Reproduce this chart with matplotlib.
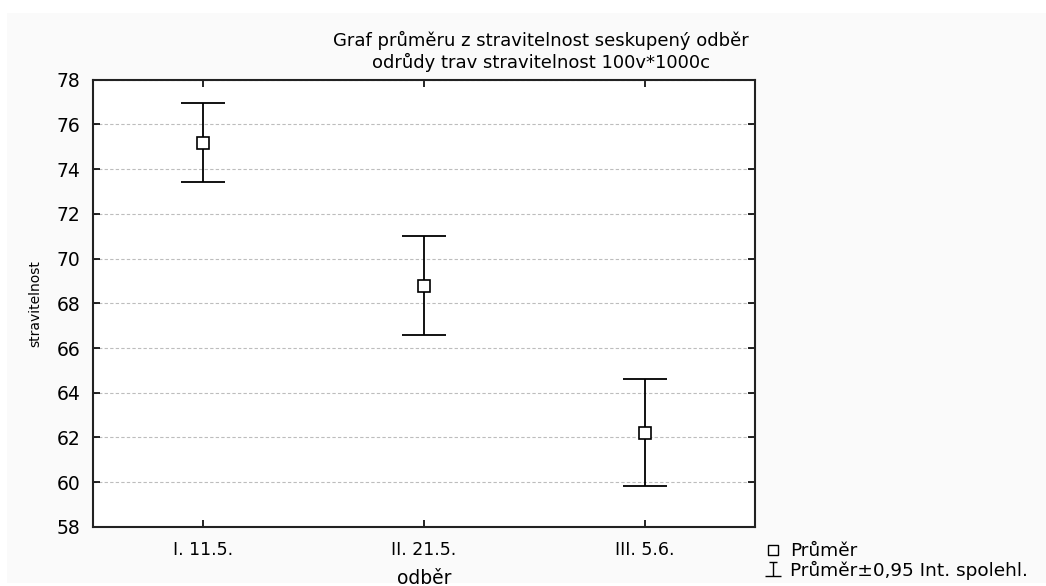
import matplotlib
matplotlib.use("Agg")
import matplotlib.pyplot as plt
from matplotlib.patches import Rectangle
from matplotlib.lines import Line2D
from matplotlib.path import Path

# data
odber = ["I. 11.5.", "II. 21.5.", "III. 5.6."]
prumer = [75.17, 68.79, 62.20]
spodni = [73.44, 66.58, 59.85]
horni = [76.95, 71.01, 64.60]
y_ticks = [58, 60, 62, 64, 66, 68, 70, 72, 74, 76, 78]

plt.rcParams["font.family"] = ["DejaVu Sans"]

fig = plt.figure(figsize=(10.46, 5.86), dpi=100)
fig.patch.set_facecolor("white")
# light grey panel like the original export
fig.add_artist(Rectangle((7 / 1046, 3 / 586), 1 - 7 / 1046, 1 - 16 / 586,
                         transform=fig.transFigure, facecolor="#fafafa",
                         edgecolor="none", zorder=-10))

ax = fig.add_axes([0.0889, 0.1007, 0.6329, 0.7636])
ax.set_facecolor("white")

x = list(range(1, len(odber) + 1))
err_lo = [p - s for p, s in zip(prumer, spodni)]
err_hi = [h - p for p, h in zip(prumer, horni)]

ax.errorbar(x, prumer, yerr=[err_lo, err_hi], fmt="none", ecolor="black",
            elinewidth=1.3, capsize=16, capthick=1.3, zorder=3)
ax.plot(x, prumer, linestyle="none", marker="s", markersize=8,
        markerfacecolor="white", markeredgecolor="black",
        markeredgewidth=1.2, zorder=4)

ax.set_xlim(0.5, 3.5)
ax.set_ylim(58, 78)
ax.set_xticks(x)
ax.set_xticklabels(odber)
ax.set_yticks(y_ticks)

ax.grid(axis="y", color="#bdbdbd", linestyle=(0, (3, 2)), linewidth=0.8)
ax.set_axisbelow(True)

for s in ax.spines.values():
    s.set_linewidth(1.5)
    s.set_color("#222222")

ax.tick_params(axis="both", direction="in", length=5, width=1.2,
               top=True, right=True)
ax.tick_params(axis="y", pad=9, labelsize=13.5)
ax.tick_params(axis="x", pad=10, labelsize=12.5)

ax.set_xlabel("odběr", fontsize=13.5, labelpad=7)
ax.set_ylabel("stravitelnost", fontsize=10, labelpad=10)

fig.text(0.517, 0.948, "Graf průměru z stravitelnost seskupený odběr\n"
         "odrůdy trav stravitelnost 100v*1000c", ha="center", va="top",
         fontsize=13, linespacing=1.2)

# legend icon for the confidence interval: vertical bar with caps
ibeam = Path([(-0.5, 0.8), (0.5, 0.8), (0, 0.8), (0, -0.8), (-1, -0.8), (1, -0.8)],
             [Path.MOVETO, Path.LINETO, Path.MOVETO, Path.LINETO,
              Path.MOVETO, Path.LINETO])
ci_handle = Line2D([], [], linestyle="none", marker=ibeam, markersize=12,
                   markerfacecolor="none", markeredgecolor="black",
                   markeredgewidth=1.0, label="Průměr±0,95 Int. spolehl.")
sq_handle = Line2D([], [], linestyle="none", marker="s", markersize=7,
                   markerfacecolor="white", markeredgecolor="black",
                   markeredgewidth=1.0, label="Průměr")

fig.legend(handles=[sq_handle, ci_handle], loc="lower left",
           bbox_to_anchor=(0.72, -0.008), frameon=False, fontsize=13.3,
           handlelength=1.0, handletextpad=0.4, labelspacing=0.02,
           borderaxespad=0.2)

fig.savefig("out.png", dpi=100, facecolor=fig.get_facecolor())
